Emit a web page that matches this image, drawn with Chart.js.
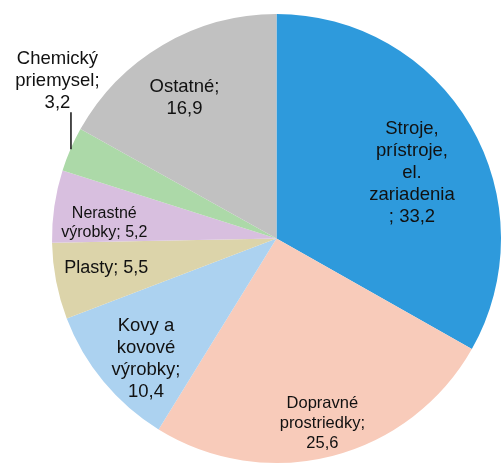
<!DOCTYPE html>
<html>
<head>
<meta charset="utf-8">
<script src="https://cdn.jsdelivr.net/npm/chart.js@4"></script>
<style>
	html, body { margin: 0; padding: 0; background: #fff; }
	#wrap { width: 502px; height: 466px; }
</style>
</head>
<body>
<div id="wrap"><canvas id="pieChart" width="502" height="466"></canvas></div>
<script>
var categories = ['Stroje, prístroje, el. zariadenia', 'Dopravné prostriedky', 'Kovy a kovové výrobky', 'Plasty', 'Nerastné výrobky', 'Chemický priemysel', 'Ostatné'];
var shares = [33.2, 25.6, 10.4, 5.5, 5.2, 3.2, 16.9];
var labelLines = [
	['Stroje,', 'prístroje,', 'el.', 'zariadenia', '; 33,2'],
	['Dopravné', 'prostriedky;', '25,6'],
	['Kovy a', 'kovové', 'výrobky;', '10,4'],
	['Plasty; 5,5'],
	['Nerastné', 'výrobky; 5,2'],
	['Chemický', 'priemysel;', '3,2'],
	['Ostatné;', '16,9']
];
var colors = ['#2e9adc', '#f8cbba', '#acd2f0', '#dcd4aa', '#d8bfdf', '#acd9a8', '#c1c1c1'];

// label placement: fraction of radius, angle shift (deg), font size, line height
var labelStyle = [
	{ r: 0.67, shift: 4.5, size: 18.5, lh: 22 },
	{ r: 0.85, shift: 0.5, size: 16.5, lh: 20 },
	{ r: 0.79, shift: -3, size: 18.5, lh: 22 },
	{ r: 0.77, shift: 1.2, size: 18, lh: 22 },
	{ r: 0.77, shift: -3.3, size: 16, lh: 19 },
	{ outside: true, size: 18.5, lh: 22 },
	{ r: 0.75, shift: -2.7, size: 18.5, lh: 22 }
];

var pieLabels = {
	id: 'pieLabels',
	afterDatasetsDraw: function(chart){
		var ctx = chart.ctx;
		var arcs = chart.getDatasetMeta(0).data;
		ctx.save();
		ctx.fillStyle = '#111';
		ctx.textAlign = 'center';
		ctx.textBaseline = 'middle';
		arcs.forEach(function(arc, i){
			var st = labelStyle[i];
			var lines = labelLines[i];
			var mid = (arc.startAngle + arc.endAngle) / 2;
			ctx.font = st.size + 'px "Liberation Sans", Arial, sans-serif';
			var x, y;
			if (st.outside) {
				var ex = arc.x + Math.cos(mid) * arc.outerRadius;
				var ey = arc.y + Math.sin(mid) * arc.outerRadius;
				ctx.strokeStyle = '#111';
				ctx.lineWidth = 1.5;
				ctx.beginPath();
				ctx.moveTo(ex + 0.5, ey);
				ctx.lineTo(ex + 0.5, ey - 37);
				ctx.stroke();
				x = ex - 13;
				y = ey - 46 - (lines.length - 1) * st.lh / 2;
			} else {
				var a = mid + st.shift * Math.PI / 180;
				x = arc.x + Math.cos(a) * arc.outerRadius * st.r;
				y = arc.y + Math.sin(a) * arc.outerRadius * st.r;
			}
			var top = y - (lines.length - 1) * st.lh / 2;
			lines.forEach(function(t, k){ ctx.fillText(t, x, top + k * st.lh); });
		});
		ctx.restore();
	}
};

new Chart(document.getElementById('pieChart'), {
	type: 'pie',
	data: {
		labels: categories,
		datasets: [{ data: shares, backgroundColor: colors, borderWidth: 0 }]
	},
	options: {
		responsive: false,
		animation: false,
		layout: { padding: { left: 52, right: 1, top: 14, bottom: 3 } },
		plugins: { legend: { display: false }, tooltip: { enabled: false } }
	},
	plugins: [pieLabels]
});
</script>
</body>
</html>
